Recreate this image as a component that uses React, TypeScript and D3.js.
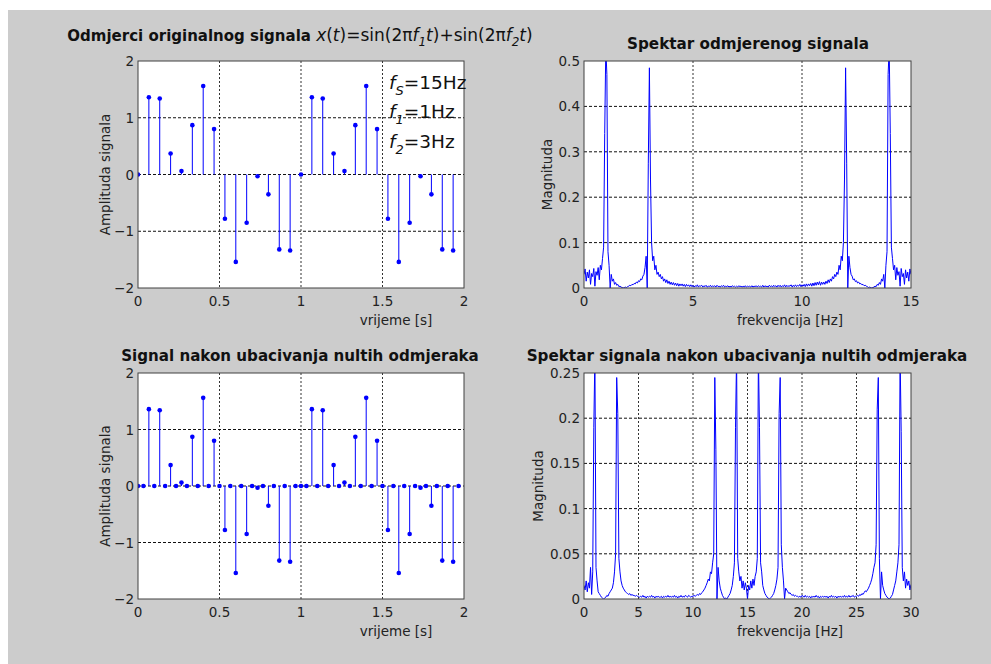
import React from "react";
import * as d3 from "d3";

// sampled signal, fs = 15 Hz, 2 s
const fs = 15;
const samples = [
  0, 1.36, 1.34, 0.37, 0.06, 0.87, 1.56, 0.8, -0.78, -1.54, -0.85, -0.03, -0.35, -1.32, -1.34,
  0, 1.36, 1.34, 0.37, 0.06, 0.87, 1.56, 0.8, -0.78, -1.54, -0.85, -0.03, -0.35, -1.32, -1.34,
];
// after inserting zeros (fs = 30 Hz)
const fsUp = 30;
const samplesUp = [
  0, 0, 1.36, 0, 1.34, 0, 0.37, 0, 0.06, 0, 0.87, 0, 1.56, 0, 0.8, 0,
  -0.78, 0, -1.54, 0, -0.85, 0, -0.03, 0, -0.35, 0, -1.32, 0, -1.34, 0,
  0, 0, 1.36, 0, 1.34, 0, 0.37, 0, 0.06, 0, 0.87, 0, 1.56, 0, 0.8, 0,
  -0.78, 0, -1.54, 0, -0.85, 0, -0.03, 0, -0.35, 0, -1.32, 0, -1.34, 0,
];

// magnitude spectrum of sampled signal, 0..15 Hz, step 0.05 Hz
const specStep = 0.05;
const spectrum = [
  0.030, 0.042, 0.015, 0.035, 0.022, 0.040, 0.008, 0.032, 0.025, 0.043, 0.004, 0.036, 0.028, 0.045, 0.018, 0.050, 0.040, 0.065, 0.090, 0.340,
  0.530, 0.470, 0.080, 0.050, 0.000, 0.030, 0.015, 0.020, 0.008, 0.012, 0.006, 0.008, 0.003, 0.004, 0.002, 0.001, 0.000, 0.001, 0.002, 0.001,
  0.003, 0.004, 0.006, 0.005, 0.008, 0.007, 0.010, 0.009, 0.013, 0.011, 0.016, 0.014, 0.020, 0.018, 0.026, 0.030, 0.045, 0.070, 0.000, 0.275,
  0.485, 0.240, 0.100, 0.060, 0.070, 0.040, 0.050, 0.030, 0.035, 0.025, 0.030, 0.020, 0.025, 0.015, 0.020, 0.012, 0.018, 0.010, 0.015, 0.008,
  0.013, 0.007, 0.012, 0.006, 0.011, 0.005, 0.010, 0.004, 0.009, 0.005, 0.009, 0.004, 0.008, 0.003, 0.008, 0.004, 0.007, 0.003, 0.007, 0.003,
  0.006, 0.002, 0.005, 0.003, 0.007, 0.002, 0.005, 0.004, 0.006, 0.002, 0.005, 0.003, 0.006, 0.002, 0.004, 0.003, 0.006, 0.002, 0.005, 0.003,
  0.005, 0.002, 0.006, 0.003, 0.004, 0.002, 0.005, 0.003, 0.006, 0.002, 0.004, 0.003, 0.005, 0.002, 0.004, 0.002, 0.005, 0.003, 0.004, 0.002,
  0.004, 0.002, 0.005, 0.003, 0.004, 0.002, 0.004, 0.002, 0.005, 0.002, 0.004, 0.003, 0.004, 0.002, 0.005, 0.002, 0.004, 0.003, 0.005, 0.002,
  0.005, 0.003, 0.004, 0.002, 0.006, 0.002, 0.005, 0.003, 0.004, 0.002, 0.006, 0.003, 0.005, 0.002, 0.006, 0.003, 0.005, 0.002, 0.006, 0.003,
  0.006, 0.002, 0.005, 0.003, 0.007, 0.002, 0.006, 0.003, 0.005, 0.004, 0.007, 0.002, 0.006, 0.003, 0.007, 0.003, 0.006, 0.004, 0.008, 0.003,
  0.007, 0.004, 0.008, 0.003, 0.009, 0.004, 0.009, 0.005, 0.010, 0.004, 0.011, 0.005, 0.012, 0.006, 0.013, 0.007, 0.014, 0.006, 0.013, 0.008,
  0.013, 0.008, 0.015, 0.010, 0.018, 0.012, 0.020, 0.015, 0.025, 0.020, 0.030, 0.025, 0.035, 0.030, 0.050, 0.040, 0.070, 0.060, 0.100, 0.240,
  0.485, 0.275, 0.000, 0.070, 0.045, 0.030, 0.026, 0.018, 0.020, 0.014, 0.016, 0.011, 0.013, 0.009, 0.010, 0.007, 0.008, 0.005, 0.006, 0.004,
  0.003, 0.001, 0.002, 0.001, 0.000, 0.001, 0.002, 0.004, 0.003, 0.008, 0.006, 0.012, 0.008, 0.020, 0.015, 0.030, 0.000, 0.050, 0.080, 0.470,
  0.530, 0.340, 0.090, 0.065, 0.040, 0.050, 0.018, 0.045, 0.028, 0.036, 0.004, 0.043, 0.025, 0.032, 0.008, 0.040, 0.022, 0.035, 0.015, 0.042,
  0.030,
];

// magnitude spectrum after zero insertion, 0..30 Hz, step 0.1 Hz
const specUpStep = 0.1;
const spectrumUp = [
  0.015, 0.010, 0.020, 0.008, 0.018, 0.012, 0.035, 0.005, 0.030, 0.190,
  0.270, 0.035, 0.020, 0.008, 0.006, 0.004, 0.002, 0.001, 0.000, 0.001,
  0.002, 0.004, 0.003, 0.006, 0.008, 0.010, 0.012, 0.018, 0.030, 0.050,
  0.245, 0.205, 0.045, 0.030, 0.020, 0.015, 0.012, 0.010, 0.008, 0.007,
  0.006, 0.005, 0.006, 0.004, 0.005, 0.004, 0.004, 0.003, 0.004, 0.003,
  0.003, 0.002, 0.003, 0.002, 0.004, 0.002, 0.003, 0.001, 0.003, 0.002,
  0.003, 0.002, 0.004, 0.002, 0.003, 0.001, 0.003, 0.002, 0.003, 0.002,
  0.002, 0.003, 0.001, 0.003, 0.002, 0.003, 0.002, 0.004, 0.002, 0.003,
  0.002, 0.003, 0.002, 0.004, 0.002, 0.003, 0.001, 0.003, 0.002, 0.004,
  0.002, 0.003, 0.002, 0.004, 0.003, 0.002, 0.004, 0.003, 0.002, 0.003,
  0.003, 0.004, 0.003, 0.004, 0.005, 0.004, 0.006, 0.005, 0.007, 0.008,
  0.010, 0.012, 0.015, 0.018, 0.022, 0.020, 0.030, 0.028, 0.040, 0.050,
  0.245, 0.165, 0.000, 0.035, 0.020, 0.012, 0.008, 0.004, 0.002, 0.000,
  0.001, 0.000, 0.002, 0.004, 0.006, 0.010, 0.015, 0.025, 0.040, 0.190,
  0.270, 0.045, 0.030, 0.020, 0.025, 0.012, 0.020, 0.010, 0.018, 0.012,
  0.000, 0.015, 0.010, 0.020, 0.012, 0.022, 0.015, 0.025, 0.030, 0.045,
  0.270, 0.190, 0.040, 0.030, 0.015, 0.010, 0.006, 0.004, 0.002, 0.001,
  0.000, 0.001, 0.002, 0.004, 0.006, 0.010, 0.015, 0.022, 0.035, 0.205,
  0.245, 0.060, 0.035, 0.020, 0.000, 0.012, 0.010, 0.008, 0.006, 0.007,
  0.005, 0.004, 0.005, 0.003, 0.004, 0.003, 0.003, 0.002, 0.003, 0.002,
  0.004, 0.003, 0.002, 0.004, 0.002, 0.003, 0.002, 0.003, 0.001, 0.003,
  0.002, 0.003, 0.002, 0.004, 0.002, 0.003, 0.001, 0.003, 0.002, 0.003,
  0.002, 0.003, 0.002, 0.003, 0.001, 0.003, 0.002, 0.004, 0.002, 0.003,
  0.002, 0.003, 0.001, 0.003, 0.002, 0.003, 0.002, 0.003, 0.002, 0.004,
  0.002, 0.003, 0.002, 0.004, 0.002, 0.003, 0.003, 0.004, 0.002, 0.003,
  0.003, 0.004, 0.003, 0.005, 0.004, 0.006, 0.005, 0.007, 0.009, 0.008,
  0.010, 0.012, 0.015, 0.018, 0.022, 0.028, 0.035, 0.040, 0.060, 0.210,
  0.245, 0.045, 0.000, 0.030, 0.015, 0.010, 0.006, 0.004, 0.002, 0.001,
  0.000, 0.001, 0.003, 0.005, 0.010, 0.015, 0.020, 0.030, 0.040, 0.060,
  0.270, 0.185, 0.035, 0.020, 0.030, 0.012, 0.022, 0.015, 0.020, 0.010,
  0.016,
];

const timeTicks = [0, 0.5, 1, 1.5, 2];
const ampTicks = [-2, -1, 0, 1, 2];
const freqTicks = [0, 5, 10, 15];
const magTicks = [0, 0.1, 0.2, 0.3, 0.4, 0.5];
const freqUpTicks = [0, 5, 10, 15, 20, 25, 30];
const magUpTicks = [0, 0.05, 0.1, 0.15, 0.2, 0.25];

const FONT = "DejaVu Sans, sans-serif";
const BLUE = "#0000ff";
const W = 991;
const H = 664;

function Axes({ id, xScale, yScale, xTicks, yTicks, xLabel, xLabelX, yLabel, yLabelX, title, children }) {
  const [x0, x1] = xScale.range();
  const [y1, y0] = yScale.range();
  const fmt = (d) => String(d).replace("-", "\u2212");
  return (
    <g>
      <rect x={x0} y={y0} width={x1 - x0} height={y1 - y0} fill="#fff" />
      {xTicks.slice(1, -1).map((t) => (
        <line key={"gx" + t} x1={xScale(t)} x2={xScale(t)} y1={y0} y2={y1}
          stroke="#333" strokeDasharray="2,2" strokeWidth={1} />
      ))}
      {yTicks.slice(1, -1).map((t) => (
        <line key={"gy" + t} x1={x0} x2={x1} y1={yScale(t)} y2={yScale(t)}
          stroke="#111" strokeDasharray="3,2" strokeWidth={1} />
      ))}
      <clipPath id={id}>
        <rect x={x0} y={y0} width={x1 - x0} height={y1 - y0} />
      </clipPath>
      <g clipPath={`url(#${id})`}>{children}</g>
      <rect x={x0} y={y0} width={x1 - x0} height={y1 - y0} fill="none" stroke="#404040" strokeWidth={1} />
      {xTicks.map((t) => (
        <text key={"tx" + t} x={xScale(t)} y={y1 + 18} textAnchor="middle"
          fontSize={13.5} fontFamily={FONT} fill="#222">{t}</text>
      ))}
      {yTicks.map((t) => (
        <text key={"ty" + t} x={x0 - 4} y={yScale(t) + 5} textAnchor="end"
          fontSize={13.5} fontFamily={FONT} fill="#222">{fmt(t)}</text>
      ))}
      <text x={xLabelX} y={y1 + 37} textAnchor="middle" fontSize={13.5} fontFamily={FONT} fill="#222">{xLabel}</text>
      <text transform={`translate(${yLabelX},${(y0 + y1) / 2}) rotate(-90)`} textAnchor="middle"
        dominantBaseline="central" fontSize={13.5} fontFamily={FONT} fill="#222">{yLabel}</text>
      {title}
    </g>
  );
}

function Stems({ data, rate, xScale, yScale }) {
  return (
    <g>
      {data.map((v, i) => (
        <g key={i}>
          <line x1={xScale(i / rate)} x2={xScale(i / rate)} y1={yScale(0)} y2={yScale(v)} stroke={BLUE} strokeWidth={1} />
          <circle cx={xScale(i / rate)} cy={yScale(v)} r={2.3} fill={BLUE} />
        </g>
      ))}
    </g>
  );
}

function Spectrum({ data, step, xScale, yScale }) {
  const path = d3.line<number>()
    .x((_, i) => xScale(i * step))
    .y((v) => yScale(v))(data);
  return <path d={path || ""} fill="none" stroke={BLUE} strokeWidth={1} />;
}

export default function App() {
  const xL = d3.scaleLinear().domain([0, 2]).range([138, 464]);
  const xR = d3.scaleLinear().domain([0, 15]).range([584, 911]);
  const xR2 = d3.scaleLinear().domain([0, 30]).range([584, 911]);
  const yTop = d3.scaleLinear().domain([-2, 2]).range([288, 61]);
  const yBot = d3.scaleLinear().domain([-2, 2]).range([599, 373]);
  const yMag = d3.scaleLinear().domain([0, 0.5]).range([288, 61]);
  const yMag2 = d3.scaleLinear().domain([0, 0.25]).range([599, 373]);

  const sub = { fontSize: 12, fontStyle: "italic" as const };

  return (
    <svg width={W} height={H} style={{ position: "absolute", left: 0, top: 0 }}>
      <rect x={0} y={0} width={W} height={H} fill="#fff" />
      <rect x={8} y={10} width={W - 8} height={H - 10} fill="#cccccc" />

      <Axes id="c1" xScale={xL} yScale={yTop} xTicks={timeTicks} yTicks={ampTicks}
        xLabel="vrijeme [s]" xLabelX={396} yLabel="Amplituda signala" yLabelX={105}
        title={
          <text x={300} y={41} textAnchor="middle" fontSize={17} fontFamily={FONT} fill="#111">
            <tspan fontWeight="bold" fontSize={15}>Odmjerci originalnog signala </tspan>
            <tspan fontStyle="italic">x</tspan><tspan>(</tspan><tspan fontStyle="italic">t</tspan><tspan>)=sin(2π</tspan>
            <tspan fontStyle="italic">f</tspan><tspan dy={5} {...sub}>1</tspan><tspan dy={-5} fontStyle="italic">t</tspan>
            <tspan>)+sin(2π</tspan><tspan fontStyle="italic">f</tspan><tspan dy={5} {...sub}>2</tspan>
            <tspan dy={-5} fontStyle="italic">t</tspan><tspan>)</tspan>
          </text>
        }>
        <Stems data={samples} rate={fs} xScale={xL} yScale={yTop} />
      </Axes>
      <g fontFamily={FONT} fontSize={18.5} fill="#111">
        <text x={389} y={89}><tspan fontStyle="italic">f</tspan><tspan dy={6} fontSize={13} fontStyle="italic">S</tspan><tspan dy={-6}>=15Hz</tspan></text>
        <text x={389} y={118}><tspan fontStyle="italic">f</tspan><tspan dy={6} fontSize={13} fontStyle="italic">1</tspan><tspan dy={-6}>=1Hz</tspan></text>
        <text x={389} y={148}><tspan fontStyle="italic">f</tspan><tspan dy={6} fontSize={13} fontStyle="italic">2</tspan><tspan dy={-6}>=3Hz</tspan></text>
      </g>

      <Axes id="c2" xScale={xR} yScale={yMag} xTicks={freqTicks} yTicks={magTicks}
        xLabel="frekvencija [Hz]" xLabelX={790} yLabel="Magnituda" yLabelX={547}
        title={<text x={748} y={49} textAnchor="middle" fontSize={15.2} fontWeight="bold" fontFamily={FONT} fill="#111">Spektar odmjerenog signala</text>}>
        <Spectrum data={spectrum} step={specStep} xScale={xR} yScale={yMag} />
      </Axes>

      <Axes id="c3" xScale={xL} yScale={yBot} xTicks={timeTicks} yTicks={ampTicks}
        xLabel="vrijeme [s]" xLabelX={396} yLabel="Amplituda signala" yLabelX={105}
        title={<text x={300} y={361} textAnchor="middle" fontSize={15.1} fontWeight="bold" fontFamily={FONT} fill="#111">Signal nakon ubacivanja nultih odmjeraka</text>}>
        <Stems data={samplesUp} rate={fsUp} xScale={xL} yScale={yBot} />
      </Axes>

      <Axes id="c4" xScale={xR2} yScale={yMag2} xTicks={freqUpTicks} yTicks={magUpTicks}
        xLabel="frekvencija [Hz]" xLabelX={790} yLabel="Magnituda" yLabelX={538}
        title={<text x={747} y={361} textAnchor="middle" fontSize={15.2} fontWeight="bold" fontFamily={FONT} fill="#111">Spektar signala nakon ubacivanja nultih odmjeraka</text>}>
        <Spectrum data={spectrumUp} step={specUpStep} xScale={xR2} yScale={yMag2} />
      </Axes>
    </svg>
  );
}
